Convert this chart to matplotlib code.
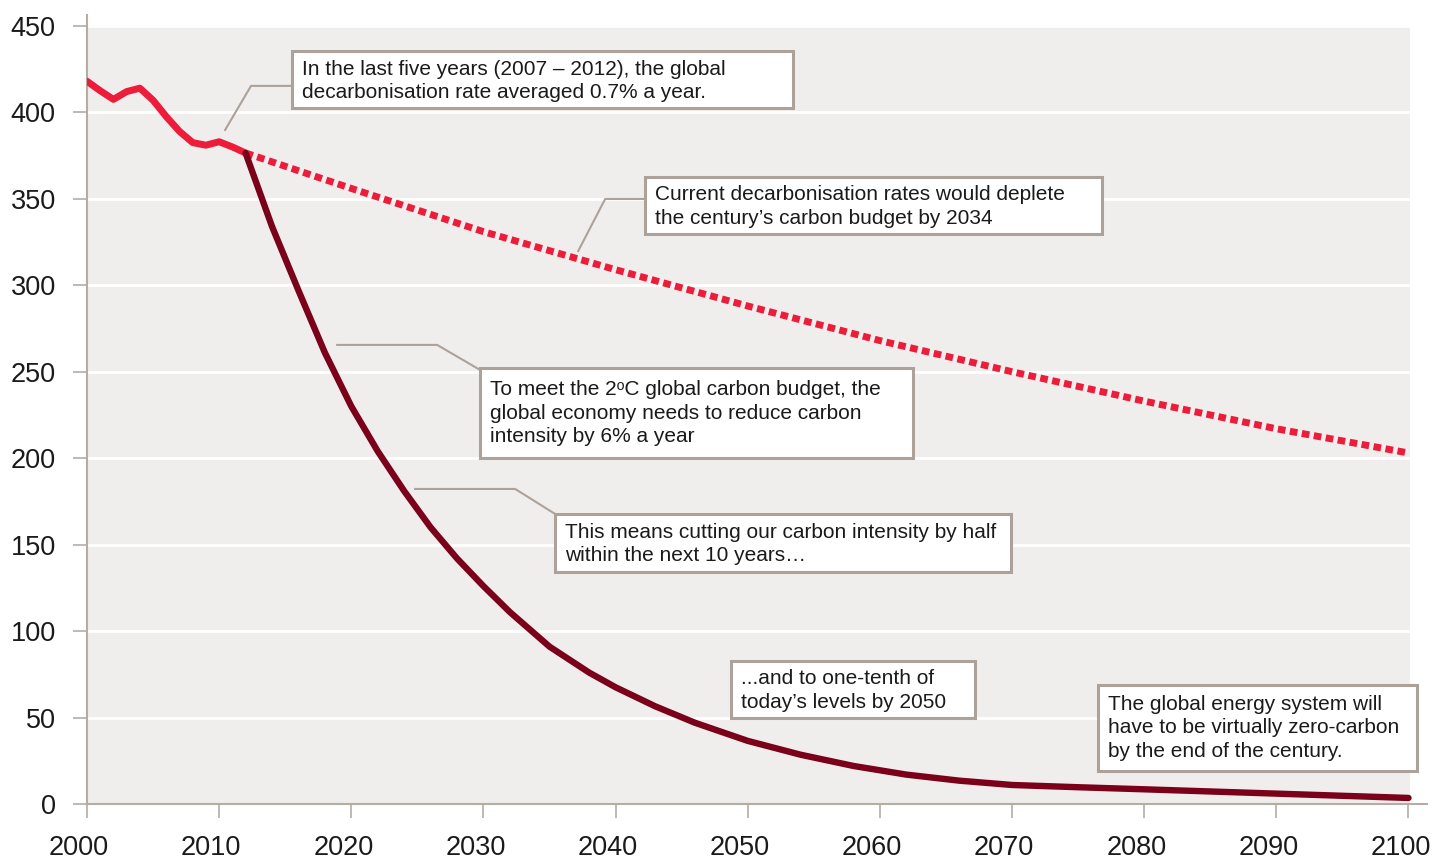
import numpy as np
import matplotlib.pyplot as plt
from matplotlib.patches import Rectangle
from matplotlib.transforms import ScaledTranslation

plt.rcParams['font.family'] = ['Liberation Sans', 'DejaVu Sans']

# ---- data ----
hist_years = [2000, 2001, 2002, 2003, 2004, 2005, 2006, 2007, 2008, 2009, 2010, 2011, 2012]
hist_vals = [418, 412.5, 407.5, 412, 414, 407, 397.5, 389, 382.5, 381, 383, 380, 376.5]

# current rate (~0.7% a year) projection
current_years = [2012, 2020, 2030, 2040, 2050, 2060, 2070, 2080, 2090, 2100]
current_vals = [376.5, 356, 331, 309, 288, 268, 250, 233, 217, 203]

# 2C pathway (~6% a year)
target_years = [2012, 2014, 2016, 2018, 2020, 2022, 2024, 2026, 2028, 2030, 2032,
                2035, 2038, 2040, 2043, 2046, 2050, 2054, 2058, 2062, 2066, 2070,
                2075, 2080, 2090, 2100]
target_vals = [376.5, 334, 297, 261, 230, 204, 181, 160, 142, 126, 111,
               91, 76, 67.5, 56.5, 47, 36.5, 28.5, 22, 17, 13.5, 11,
               9.7, 8.5, 6, 3.5]

y_ticks = [0, 50, 100, 150, 200, 250, 300, 350, 400, 450]
x_ticks = [2000, 2010, 2020, 2030, 2040, 2050, 2060, 2070, 2080, 2090, 2100]

# annotation boxes: (x0, x1, y0, y1), text x, text centre y, leader points
notes = [
    ((2015.52, 2053.45, 402.5, 435.5), 2016.28, 418.0,
     "In the last five years (2007 \u2013 2012), the global\ndecarbonisation rate averaged 0.7% a year.",
     [(2010.45, 389.8), (2012.41, 415.3), (2015.52, 415.3)]),
    ((2042.24, 2076.84, 329.7, 362.6), 2043.0, 345.5,
     "Current decarbonisation rates would deplete\nthe century\u2019s carbon budget by 2034",
     [(2037.17, 319.8), (2039.21, 349.9), (2042.24, 349.9)]),
    ((2029.75, 2062.53, 200.1, 252.2), 2030.51, 226.0,
     "To meet the 2\u1d52C global carbon budget, the\nglobal economy needs to reduce carbon\nintensity by 6% a year",
     [(2018.93, 265.5), (2026.5, 265.5), (2029.75, 251.0)]),
    ((2035.43, 2069.95, 134.2, 167.7), 2036.18, 150.5,
     "This means cutting our carbon intensity by half\nwithin the next 10 years\u2026",
     [(2024.83, 182.2), (2032.40, 182.2), (2035.43, 167.7)]),
    ((2048.75, 2067.22, 49.7, 82.7), 2049.51, 65.5,
     "...and to one-tenth of\ntoday\u2019s levels by 2050", None),
    ((2076.53, 2100.68, 19.1, 68.8), 2077.29, 44.0,
     "The global energy system will\nhave to be virtually zero-carbon\nby the end of the century.", None),
]

RED = '#ec1c3a'
DARK = '#7b0019'
EDGE = '#aca299'
AXIS = '#b5aca4'
TEXT = '#1a1a1a'

fig = plt.figure(figsize=(14.32, 8.58), dpi=100)
ax = fig.add_axes([87 / 1432, 54 / 858, (1427 - 87) / 1432, (804 - 15) / 858])
ax.set_xlim(2000, 2101.4)
ax.set_ylim(0, 456.3)

# grey plot area + white gridlines
ax.add_patch(Rectangle((2000, 0), 100.1, 450, facecolor='#f0eeec', edgecolor='none', zorder=0))
ax.hlines(y_ticks[1:], 2000, 2100.1, color='white', lw=2, zorder=1)

ax.plot(hist_years, hist_vals, color=RED, lw=5, solid_capstyle='round',
        solid_joinstyle='round', zorder=3)
ax.plot(current_years, current_vals, color=RED, lw=5, linestyle=(0, (1.1, 0.65)),
        dash_capstyle='butt', zorder=3)
ax.plot(target_years, target_vals, color=DARK, lw=4.6, solid_capstyle='round',
        solid_joinstyle='round', zorder=4)

for (x0, x1, y0, y1), tx, ty, txt, leader in notes:
    if leader:
        lx, ly = zip(*leader)
        ax.plot(lx, ly, color=EDGE, lw=1.5, zorder=5, clip_on=False)
    ax.add_patch(Rectangle((x0, y0), x1 - x0, y1 - y0, facecolor='white',
                           edgecolor=EDGE, lw=2.2, zorder=6, clip_on=False))
    ax.text(tx, ty, txt, fontsize=15, color=TEXT, ha='left', va='center',
            linespacing=1.3, zorder=7)

for s in ['top', 'right']:
    ax.spines[s].set_visible(False)
for s in ['left', 'bottom']:
    ax.spines[s].set_color(AXIS)
    ax.spines[s].set_linewidth(1.5)

ax.set_xticks(x_ticks)
ax.set_yticks(y_ticks)
ax.tick_params(axis='both', length=10, width=1.2, color=AXIS, labelsize=19.5, labelcolor=TEXT)
ax.tick_params(axis='x', pad=12)
ax.tick_params(axis='y', pad=12.5)

# x labels sit a little left of their ticks in the original
shift = ScaledTranslation(-8 / 100, 0, fig.dpi_scale_trans)
for lab in ax.get_xticklabels():
    lab.set_transform(lab.get_transform() + shift)

fig.savefig('out.png', dpi=100)
